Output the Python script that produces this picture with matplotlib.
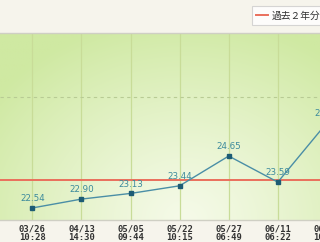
import numpy as np
import matplotlib
matplotlib.use("Agg")
import matplotlib.pyplot as plt
import matplotlib.transforms as mtransforms
from matplotlib.lines import Line2D

plt.rcParams['font.family'] = ['Noto Sans CJK JP', 'DejaVu Sans']

# ---- data ----
dates = ["03/26", "04/13", "05/05", "05/22", "05/27", "06/11", "06/25"]
times = ["10:28", "14:30", "09:44", "10:15", "06:49", "06:22", "10:05"]
values = [22.54, 22.90, 23.13, 23.44, 24.65, 23.59, 26.00]
reference_value = 23.68
reference_label = "過去２年分"
guide_value = 27.05

W, H = 320, 242
fig = plt.figure(figsize=(W / 100, H / 100), dpi=100)
fig.patch.set_facecolor("#f6f4ec")

ax_bottom = (H - 220) / H
ax_top = (H - 33) / H
ax = fig.add_axes([0, ax_bottom, 1, ax_top - ax_bottom])

xlim = (-0.66, 5.86)
ylim = (22.05, 29.65)

# green gradient background
nx, ny = 200, 120
gx, gy = np.meshgrid(np.linspace(0, 1, nx), np.linspace(0, 1, ny))
d = np.sqrt(((gx - 0.58) / 0.75) ** 2 + ((gy - 0.0) / 1.1) ** 2)
t = np.clip(d, 0, 1) ** 1.2
light = np.array([0xf5, 0xfa, 0xe8]) / 255
dark = np.array([0xcf, 0xe9, 0xa2]) / 255
img = light[None, None, :] * (1 - t[..., None]) + dark[None, None, :] * t[..., None]
ax.imshow(img, extent=[xlim[0], xlim[1], ylim[0], ylim[1]], origin="lower",
          aspect="auto", zorder=0, interpolation="bilinear")

x = np.arange(len(values))
for xi in x:
    ax.axvline(xi, color="#c8dc98", lw=0.9, zorder=1)
ax.axhline(guide_value, color="#b8cb94", lw=0.8, dashes=(3, 3), zorder=1)

ax.axhline(reference_value, color="#ea6f5c", lw=1.4, zorder=2)

ax.plot(x, values, color="#4a8ea6", lw=1.0, zorder=3)
ax.plot(x, values, ls="none", marker="s", ms=2.6, color="#1d5c74", zorder=4)
for xi, v in zip(x, values):
    ax.annotate(f"{v:.2f}", (xi, v), xytext=(0, 3.5), textcoords="offset points",
                ha="center", va="bottom", fontsize=6.3, color="#3c8a9c",
                family="DejaVu Sans", zorder=5, annotation_clip=False)

# x tick labels drawn as texts so the partially visible last one shows too
trans = mtransforms.blended_transform_factory(ax.transData, ax.transAxes)
for xi, d_, t_ in zip(x, dates, times):
    ax.annotate(f"{d_}\n{t_}", (xi, 0), xycoords=trans, xytext=(0, -3),
                textcoords="offset points", ha="center", va="top",
                fontsize=6.4, color="#333333", family="DejaVu Sans Mono",
                fontweight="bold", linespacing=0.95, annotation_clip=False)

ax.set_xticks([])
ax.set_yticks([])
for s in ["left", "right"]:
    ax.spines[s].set_visible(False)
for s in ["top", "bottom"]:
    ax.spines[s].set_color("#cfcfc4")
    ax.spines[s].set_linewidth(1.0)

ax.set_xlim(*xlim)
ax.set_ylim(*ylim)

leg = fig.legend([Line2D([0], [0], color="#ea6f5c", lw=1.4)], [reference_label],
                 loc="upper right", bbox_to_anchor=(1.03, 0.995),
                 fontsize=7, frameon=True, fancybox=False, handlelength=1.2,
                 handletextpad=0.4, borderpad=0.45, labelcolor="#333333")
leg.get_frame().set_edgecolor("#cccccc")
leg.get_frame().set_linewidth(0.8)

fig.savefig("out.png", dpi=100, facecolor=fig.get_facecolor())
